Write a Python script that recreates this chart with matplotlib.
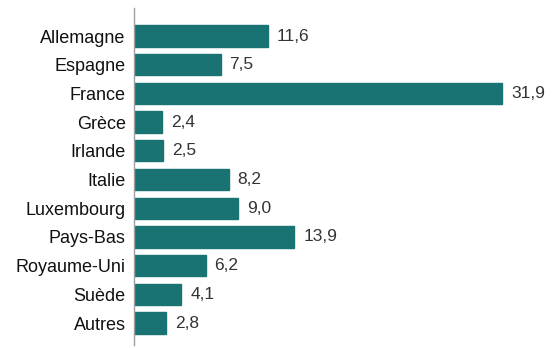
import matplotlib
matplotlib.use("Agg")
import matplotlib.pyplot as plt

categories = ["Allemagne", "Espagne", "France", "Grèce", "Irlande", "Italie",
              "Luxembourg", "Pays-Bas", "Royaume-Uni", "Suède", "Autres"]
values = [11.6, 7.5, 31.9, 2.4, 2.5, 8.2, 9.0, 13.9, 6.2, 4.1, 2.8]

plt.rcParams['font.family'] = ['Liberation Sans', 'DejaVu Sans']

W, H = 555, 348
fig = plt.figure(figsize=(W/100, H/100), dpi=100)
ax = fig.add_axes([134/W, 3/H, (545-134)/W, (345-8)/H])

pos = list(range(len(categories)))
ax.barh(pos, values, height=0.74, color="#1a7373", edgecolor="#1a7373")
for p, v in zip(pos, values):
    ax.annotate(f"{v:.1f}".replace(".", ","), (v, p), xytext=(9, 0),
                textcoords="offset pixels",
                va="center", ha="left", fontsize=12.5, color="#333333")

ax.set_xlim(0, (545-134)/11.54)
ax.set_ylim(10 + 22/28.7, -28/28.7)
ax.set_yticks(pos)
ax.set_yticklabels(categories, fontsize=13, color="#111111")
ax.tick_params(axis="y", length=0, pad=6)
ax.set_xticks([])
for s in ["top", "right", "bottom"]:
    ax.spines[s].set_visible(False)
ax.spines["left"].set_color("#a0a0a0")
ax.spines["left"].set_linewidth(1.0)

fig.savefig("out.png", dpi=100)
